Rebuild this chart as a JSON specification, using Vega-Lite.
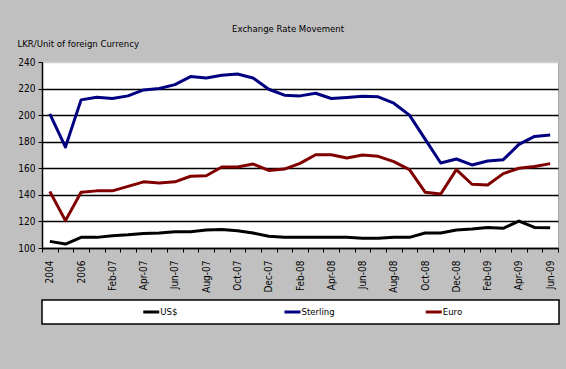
{
  "$schema": "https://vega.github.io/schema/vega-lite/v6.json",
  "background": "#c0c0c0",
  "padding": {"left": 16, "top": 24, "right": 8, "bottom": 45},
  "title": {"text": "Exchange Rate Movement", "fontSize": 9.5, "fontWeight": "normal", "color": "#000000", "anchor": "middle", "offset": 4},
  "config": {"font": "DejaVu Sans Condensed, Liberation Sans, sans-serif", "view": {"stroke": null}},
  "spacing": 6,
  "vconcat": [
    {
      "width": 516,
      "height": 186,
      "view": {"fill": "#ffffff", "stroke": "#a8a8a8"},
      "data": {"values": [
        {"period": "2004", "US$": 105, "Sterling": 201, "Euro": 142.5},
        {"period": "2005", "US$": 103, "Sterling": 176, "Euro": 120.6},
        {"period": "2006", "US$": 108, "Sterling": 211.5, "Euro": 142},
        {"period": "Jan-07", "US$": 108, "Sterling": 213.5, "Euro": 143},
        {"period": "Feb-07", "US$": 109.3, "Sterling": 212.5, "Euro": 143},
        {"period": "Mar-07", "US$": 110, "Sterling": 214.5, "Euro": 146.4},
        {"period": "Apr-07", "US$": 111, "Sterling": 219, "Euro": 149.8},
        {"period": "May-07", "US$": 111.3, "Sterling": 220, "Euro": 149},
        {"period": "Jun-07", "US$": 112.3, "Sterling": 223, "Euro": 149.8},
        {"period": "Jul-07", "US$": 112.3, "Sterling": 229, "Euro": 154},
        {"period": "Aug-07", "US$": 113.5, "Sterling": 228, "Euro": 154.4},
        {"period": "Sep-07", "US$": 114, "Sterling": 230, "Euro": 161},
        {"period": "Oct-07", "US$": 113, "Sterling": 231, "Euro": 161},
        {"period": "Nov-07", "US$": 111.3, "Sterling": 228, "Euro": 163.2},
        {"period": "Dec-07", "US$": 108.8, "Sterling": 219.5, "Euro": 158.4},
        {"period": "Jan-08", "US$": 108, "Sterling": 215, "Euro": 159.4},
        {"period": "Feb-08", "US$": 108, "Sterling": 214.5, "Euro": 163.7},
        {"period": "Mar-08", "US$": 108, "Sterling": 216.5, "Euro": 170.2},
        {"period": "Apr-08", "US$": 108, "Sterling": 212.5, "Euro": 170.2},
        {"period": "May-08", "US$": 108, "Sterling": 213.3, "Euro": 167.7},
        {"period": "Jun-08", "US$": 107.3, "Sterling": 214.3, "Euro": 170},
        {"period": "Jul-08", "US$": 107.3, "Sterling": 213.8, "Euro": 169},
        {"period": "Aug-08", "US$": 108, "Sterling": 209, "Euro": 165},
        {"period": "Sep-08", "US$": 108, "Sterling": 200, "Euro": 159},
        {"period": "Oct-08", "US$": 111.3, "Sterling": 182, "Euro": 142},
        {"period": "Nov-08", "US$": 111.3, "Sterling": 164, "Euro": 140.6},
        {"period": "Dec-08", "US$": 113.5, "Sterling": 167, "Euro": 159},
        {"period": "Jan-09", "US$": 114.3, "Sterling": 162.5, "Euro": 148},
        {"period": "Feb-09", "US$": 115.5, "Sterling": 165.5, "Euro": 147.4},
        {"period": "Mar-09", "US$": 114.8, "Sterling": 166.5, "Euro": 156},
        {"period": "Apr-09", "US$": 120.3, "Sterling": 178, "Euro": 160},
        {"period": "May-09", "US$": 115.5, "Sterling": 184, "Euro": 161.4},
        {"period": "Jun-09", "US$": 115.3, "Sterling": 185, "Euro": 163.5}
      ]},
      "transform": [{"fold": ["US$", "Sterling", "Euro"], "as": ["series", "value"]}],
      "mark": {"type": "line", "strokeWidth": 3, "strokeJoin": "round"},
      "encoding": {
        "x": {
          "field": "period", "type": "ordinal", "sort": null, "bandPosition": 0.5,
          "scale": {"type": "band", "paddingInner": 0, "paddingOuter": 0},
          "axis": {
            "title": null, "labelAngle": -90, "tickBand": "extent", "grid": false,
            "labelExpr": "indexof(['2004','2006','Feb-07','Apr-07','Jun-07','Aug-07','Oct-07','Dec-07','Feb-08','Apr-08','Jun-08','Aug-08','Oct-08','Dec-08','Feb-09','Apr-09','Jun-09'], datum.label) >= 0 ? datum.label : ''",
            "labelFontSize": 10, "labelColor": "#000000", "labelPadding": 8,
            "tickColor": "#000000", "tickSize": 4, "domainColor": "#000000", "domainWidth": 1.5
          }
        },
        "y": {
          "field": "value", "type": "quantitative",
          "scale": {"domain": [100, 240], "nice": false, "zero": false},
          "axis": {
            "title": "LKR/Unit of foreign Currency", "titleAngle": 0, "titleAlign": "left", "titleBaseline": "alphabetic",
            "titleX": -25, "titleY": -16, "titleFontSize": 9.5, "titleFontWeight": "normal", "titleColor": "#000000",
            "values": [100, 120, 140, 160, 180, 200, 220, 240],
            "grid": true,
            "gridColor": {"condition": {"test": "datum.value == 240", "value": "#d0d0d0"}, "value": "#000000"},
            "gridWidth": 1.5,
            "labelFontSize": 10, "labelColor": "#000000", "labelPadding": 3,
            "tickColor": "#000000", "tickSize": 4, "domainColor": "#000000", "domainWidth": 1.5
          }
        },
        "color": {
          "field": "series", "type": "nominal",
          "scale": {"domain": ["US$", "Sterling", "Euro"], "range": ["#000000", "#000080", "#800000"]},
          "legend": null
        }
      }
    },
    {
      "width": 517,
      "height": 24,
      "view": {"fill": "#ffffff", "stroke": "#000000", "strokeWidth": 1.5},
      "data": {"values": [{"series": "US$"}, {"series": "Sterling"}, {"series": "Euro"}]},
      "encoding": {
        "x": {"field": "series", "type": "nominal", "sort": null, "scale": {"type": "point", "padding": 0.83, "align": 0.5}, "axis": null}
      },
      "layer": [
        {
          "mark": {"type": "point", "shape": "stroke", "size": 256, "strokeWidth": 3, "filled": false, "opacity": 1, "xOffset": -8},
          "encoding": {
            "color": {"field": "series", "type": "nominal", "scale": {"domain": ["US$", "Sterling", "Euro"], "range": ["#000000", "#000080", "#800000"]}, "legend": null}
          }
        },
        {
          "mark": {"type": "text", "align": "left", "dx": 1, "fontSize": 9.5, "color": "#000000"},
          "encoding": {"text": {"field": "series"}}
        }
      ]
    }
  ]
}
